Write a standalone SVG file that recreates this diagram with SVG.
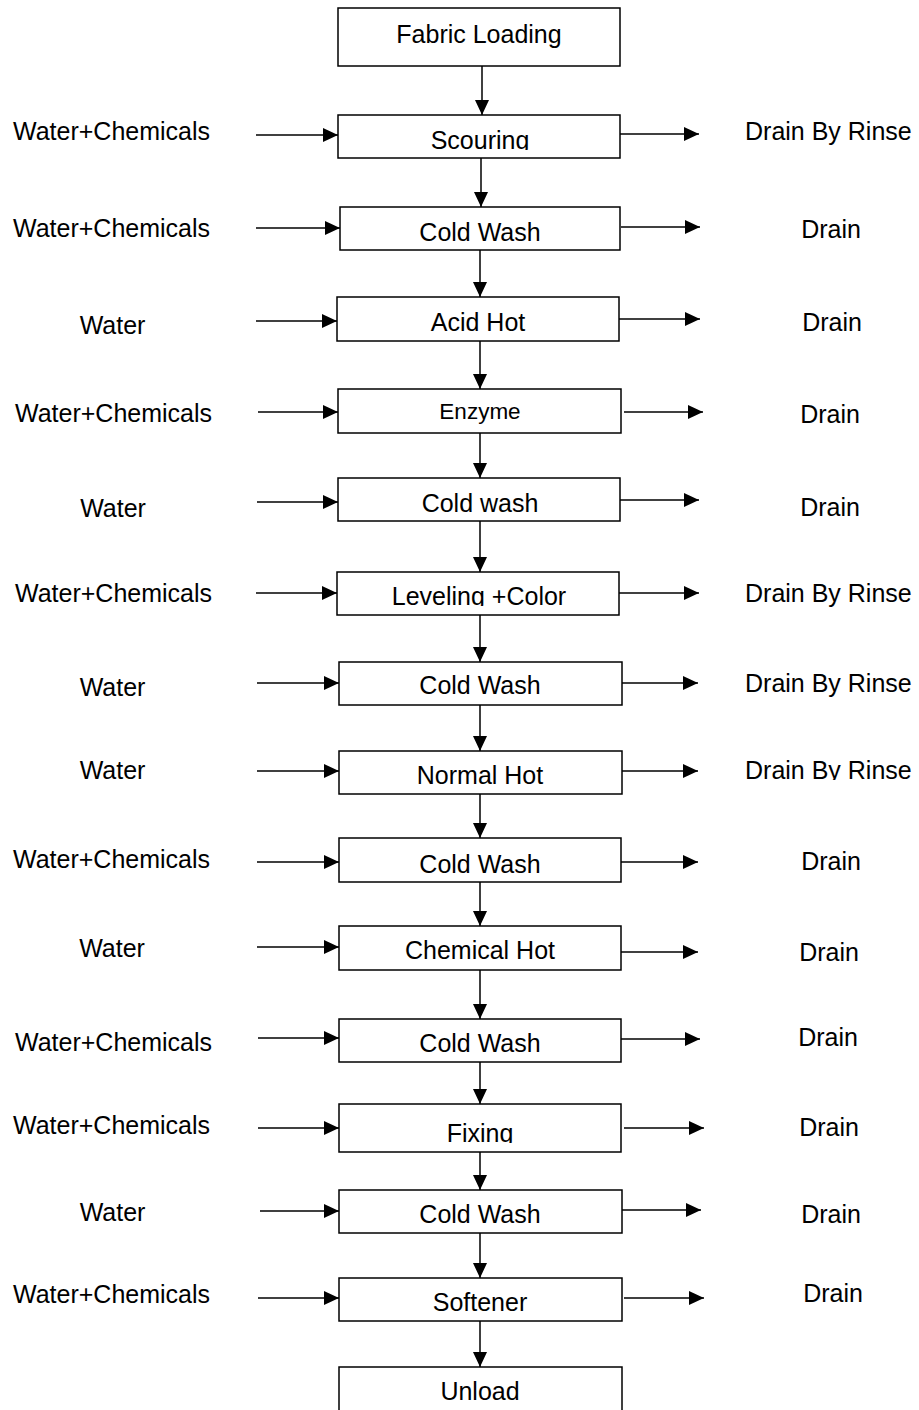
<svg xmlns="http://www.w3.org/2000/svg" width="919" height="1410" viewBox="0 0 919 1410">
<style>
.box{fill:#fff;stroke:#000;stroke-width:1.5}
.t{font-family:"Liberation Sans",Arial,sans-serif;font-size:25px;fill:#000}
.c{text-anchor:middle}
.ln{stroke:#000;stroke-width:1.5;fill:none;marker-end:url(#ah)}
</style>
<defs>
<marker id="ah" markerUnits="userSpaceOnUse" markerWidth="15" markerHeight="14" refX="15" refY="7" orient="auto">
<path d="M0,0 L15,7 L0,14 Z" fill="#000"/>
</marker>
<clipPath id="cp1"><rect x="340" y="116" width="280" height="34"/></clipPath>
<clipPath id="cp2"><rect x="338" y="573" width="280" height="33"/></clipPath>
<clipPath id="cp3"><rect x="340" y="1105" width="280" height="38"/></clipPath>
<clipPath id="cp4"><rect x="700" y="750" width="219" height="30"/></clipPath>
</defs>
<g id="connectors">
<line class="ln" x1="482" y1="66" x2="482" y2="115"/>
<line class="ln" x1="481" y1="158" x2="481" y2="207"/>
<line class="ln" x1="480" y1="250" x2="480" y2="297"/>
<line class="ln" x1="480" y1="341" x2="480" y2="389"/>
<line class="ln" x1="480" y1="433" x2="480" y2="478"/>
<line class="ln" x1="480" y1="521" x2="480" y2="572"/>
<line class="ln" x1="480" y1="615" x2="480" y2="662"/>
<line class="ln" x1="480" y1="705" x2="480" y2="751"/>
<line class="ln" x1="480" y1="794" x2="480" y2="838"/>
<line class="ln" x1="480" y1="880" x2="480" y2="926"/>
<line class="ln" x1="480" y1="970" x2="480" y2="1019"/>
<line class="ln" x1="480" y1="1059" x2="480" y2="1104"/>
<line class="ln" x1="480" y1="1147" x2="480" y2="1190"/>
<line class="ln" x1="480" y1="1233" x2="480" y2="1278"/>
<line class="ln" x1="480" y1="1319" x2="480" y2="1367"/>
<line class="ln" x1="256" y1="135" x2="338" y2="135"/>
<line class="ln" x1="256" y1="228" x2="340" y2="228"/>
<line class="ln" x1="256" y1="321" x2="337" y2="321"/>
<line class="ln" x1="258" y1="412" x2="338" y2="412"/>
<line class="ln" x1="257" y1="502" x2="338" y2="502"/>
<line class="ln" x1="256" y1="593" x2="337" y2="593"/>
<line class="ln" x1="257" y1="683" x2="339" y2="683"/>
<line class="ln" x1="257" y1="771" x2="339" y2="771"/>
<line class="ln" x1="257" y1="862" x2="339" y2="862"/>
<line class="ln" x1="257" y1="947" x2="339" y2="947"/>
<line class="ln" x1="258" y1="1038" x2="339" y2="1038"/>
<line class="ln" x1="258" y1="1128" x2="339" y2="1128"/>
<line class="ln" x1="260" y1="1211" x2="339" y2="1211"/>
<line class="ln" x1="258" y1="1298" x2="339" y2="1298"/>
<line class="ln" x1="620" y1="134" x2="699" y2="134"/>
<line class="ln" x1="621" y1="227" x2="700" y2="227"/>
<line class="ln" x1="619" y1="319" x2="700" y2="319"/>
<line class="ln" x1="624" y1="412" x2="703" y2="412"/>
<line class="ln" x1="620" y1="500" x2="699" y2="500"/>
<line class="ln" x1="619" y1="593" x2="699" y2="593"/>
<line class="ln" x1="618" y1="683" x2="698" y2="683"/>
<line class="ln" x1="618" y1="771" x2="698" y2="771"/>
<line class="ln" x1="618" y1="862" x2="698" y2="862"/>
<line class="ln" x1="618" y1="952" x2="698" y2="952"/>
<line class="ln" x1="621" y1="1039" x2="700" y2="1039"/>
<line class="ln" x1="624" y1="1128" x2="704" y2="1128"/>
<line class="ln" x1="621" y1="1210" x2="701" y2="1210"/>
<line class="ln" x1="624" y1="1298" x2="704" y2="1298"/>
</g>
<g id="n-fabric-loading"><rect class="box" x="338" y="8" width="282" height="58"/><text class="t c" x="479" y="43">Fabric Loading</text></g>
<g id="n-scouring"><rect class="box" x="338" y="115" width="282" height="43"/><text class="t c" x="480" y="149" clip-path="url(#cp1)">Scouring</text></g>
<g id="n-cold-wash-1"><rect class="box" x="340" y="207" width="280" height="43"/><text class="t c" x="480" y="241">Cold Wash</text></g>
<g id="n-acid-hot"><rect class="box" x="337" y="297" width="282" height="44"/><text class="t c" x="478" y="331">Acid Hot</text></g>
<g id="n-enzyme"><rect class="box" x="338" y="389" width="283" height="44"/><text class="t c" x="480" y="419" style="font-size:22.5px">Enzyme</text></g>
<g id="n-cold-wash-2"><rect class="box" x="338" y="478" width="282" height="43"/><text class="t c" x="480" y="512">Cold wash</text></g>
<g id="n-leveling-color"><rect class="box" x="337" y="572" width="282" height="43"/><text class="t c" x="479" y="605" clip-path="url(#cp2)">Leveling +Color</text></g>
<g id="n-cold-wash-3"><rect class="box" x="339" y="662" width="283" height="43"/><text class="t c" x="480" y="694">Cold Wash</text></g>
<g id="n-normal-hot"><rect class="box" x="339" y="751" width="283" height="43"/><text class="t c" x="480" y="784">Normal Hot</text></g>
<g id="n-cold-wash-4"><rect class="box" x="339" y="838" width="282" height="44"/><text class="t c" x="480" y="873">Cold Wash</text></g>
<g id="n-chemical-hot"><rect class="box" x="339" y="926" width="282" height="44"/><text class="t c" x="480" y="959">Chemical Hot</text></g>
<g id="n-cold-wash-5"><rect class="box" x="339" y="1019" width="282" height="43"/><text class="t c" x="480" y="1052">Cold Wash</text></g>
<g id="n-fixing"><rect class="box" x="339" y="1104" width="282" height="48"/><text class="t c" x="480" y="1142" clip-path="url(#cp3)">Fixing</text></g>
<g id="n-cold-wash-6"><rect class="box" x="339" y="1190" width="283" height="43"/><text class="t c" x="480" y="1223">Cold Wash</text></g>
<g id="n-softener"><rect class="box" x="339" y="1278" width="283" height="43"/><text class="t c" x="480" y="1311">Softener</text></g>
<g id="n-unload"><rect class="box" x="339" y="1367" width="283" height="50"/><text class="t c" x="480" y="1400">Unload</text></g>
<g id="inputs">
<text class="t" x="13" y="140">Water+Chemicals</text>
<text class="t" x="13" y="237">Water+Chemicals</text>
<text class="t c" x="112.5" y="334">Water</text>
<text class="t" x="15" y="422">Water+Chemicals</text>
<text class="t c" x="113" y="517">Water</text>
<text class="t" x="15" y="602">Water+Chemicals</text>
<text class="t c" x="112.5" y="696">Water</text>
<text class="t c" x="112.5" y="779">Water</text>
<text class="t" x="13" y="868">Water+Chemicals</text>
<text class="t c" x="112" y="957">Water</text>
<text class="t" x="15" y="1051">Water+Chemicals</text>
<text class="t" x="13" y="1134">Water+Chemicals</text>
<text class="t c" x="112.5" y="1221">Water</text>
<text class="t" x="13" y="1303">Water+Chemicals</text>
</g>
<g id="outputs">
<text class="t" x="745" y="140">Drain By Rinse</text>
<text class="t c" x="831" y="238">Drain</text>
<text class="t c" x="832" y="331">Drain</text>
<text class="t c" x="830" y="423">Drain</text>
<text class="t c" x="830" y="516">Drain</text>
<text class="t" x="745" y="602">Drain By Rinse</text>
<text class="t" x="745" y="692">Drain By Rinse</text>
<text class="t" x="745" y="779" clip-path="url(#cp4)">Drain By Rinse</text>
<text class="t c" x="831" y="870">Drain</text>
<text class="t c" x="829" y="961">Drain</text>
<text class="t c" x="828" y="1046">Drain</text>
<text class="t c" x="829" y="1136">Drain</text>
<text class="t c" x="831" y="1223">Drain</text>
<text class="t c" x="833" y="1302">Drain</text>
</g>
</svg>
